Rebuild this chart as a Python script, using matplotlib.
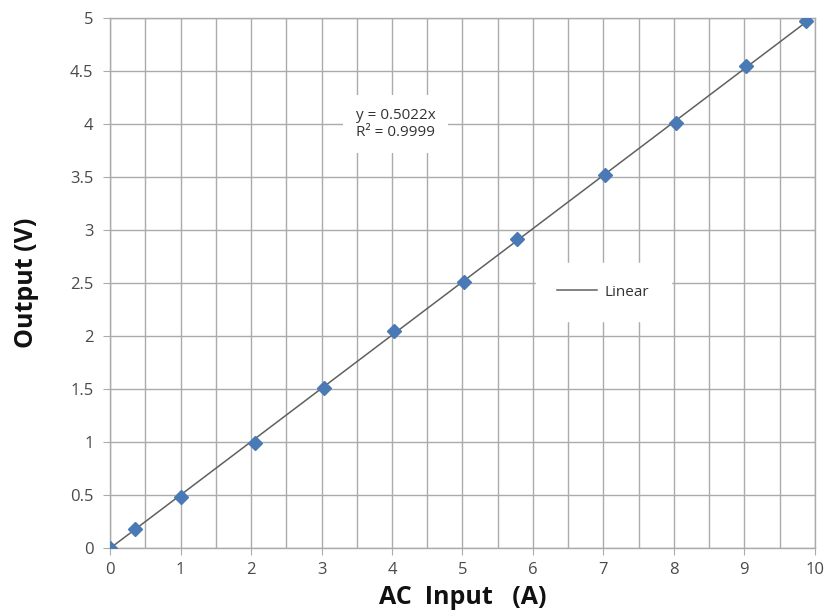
import matplotlib
matplotlib.use("Agg")
import matplotlib.pyplot as plt
import numpy as np

plt.rcParams['font.family'] = ['Open Sans', 'DejaVu Sans']

x_input = [0, 0.35, 1.0, 2.05, 3.03, 4.03, 5.02, 5.78, 7.02, 8.03, 9.02, 9.87]
y_output = [0, 0.18, 0.48, 0.99, 1.51, 2.05, 2.51, 2.92, 3.52, 4.01, 4.55, 4.97]
slope = 0.5022
x_ticks = [0, 1, 2, 3, 4, 5, 6, 7, 8, 9, 10]
y_ticks = [0, 0.5, 1, 1.5, 2, 2.5, 3, 3.5, 4, 4.5, 5]
y_labels = ['0', '0.5', '1', '1.5', '2', '2.5', '3', '3.5', '4', '4.5', '5']

fig = plt.figure(figsize=(8.28, 6.16), dpi=100)
ax = fig.add_axes([0.133, 0.110, 0.851, 0.861])

ax.set_xlim(0, 10)
ax.set_ylim(0, 5)
ax.set_xticks(x_ticks)
ax.set_xticks(np.arange(0.5, 10, 1.0), minor=True)
ax.set_yticks(y_ticks)
ax.set_yticklabels(y_labels)
ax.set_xticklabels([str(v) for v in x_ticks])
ax.grid(True, which='both', color='#ababab', linewidth=1.0)
ax.set_axisbelow(True)
for s in ax.spines.values():
    s.set_color('#ababab')
    s.set_linewidth(1.0)
ax.tick_params(axis='both', which='major', colors='#ababab', labelcolor='#4a4a4a',
               labelsize=12, length=5)
ax.tick_params(axis='x', which='minor', length=0)
ax.tick_params(axis='x', pad=5)
ax.tick_params(axis='y', pad=7)

# trendline
xl = np.array([0, max(x_input)])
line, = ax.plot(xl, slope * xl, color='#606060', linewidth=1.1, zorder=3, label='Linear')
ax.plot(x_input, y_output, linestyle='none', marker='D', markersize=7.5,
        color='#4a7ab5', markeredgecolor='#4a7ab5', zorder=4)

ax.text(4.05, 4.0, 'y = 0.5022x\nR² = 0.9999', fontsize=11, color='#333333',
        ha='center', va='center', linespacing=1.25,
        bbox=dict(boxstyle='square,pad=0.8', facecolor='white', edgecolor='none'),
        zorder=2.5)

leg = ax.legend(handles=[line], loc='center', bbox_to_anchor=(0.70, 0.483),
                frameon=True, fontsize=11, handlelength=2.6, handletextpad=0.5,
                borderpad=1.1)
leg.get_frame().set_edgecolor('white')
leg.get_frame().set_facecolor('white')
leg.get_frame().set_alpha(1)
leg.get_frame().set_boxstyle('square')
for t in leg.get_texts():
    t.set_color('#333333')

ax.set_xlabel('AC  Input   (A)', fontsize=18, fontweight='bold', color='#111111', labelpad=5)
ax.set_ylabel('Output (V)', fontsize=18, fontweight='bold', color='#111111', labelpad=22)

fig.savefig('out.png', dpi=100, facecolor='white')
